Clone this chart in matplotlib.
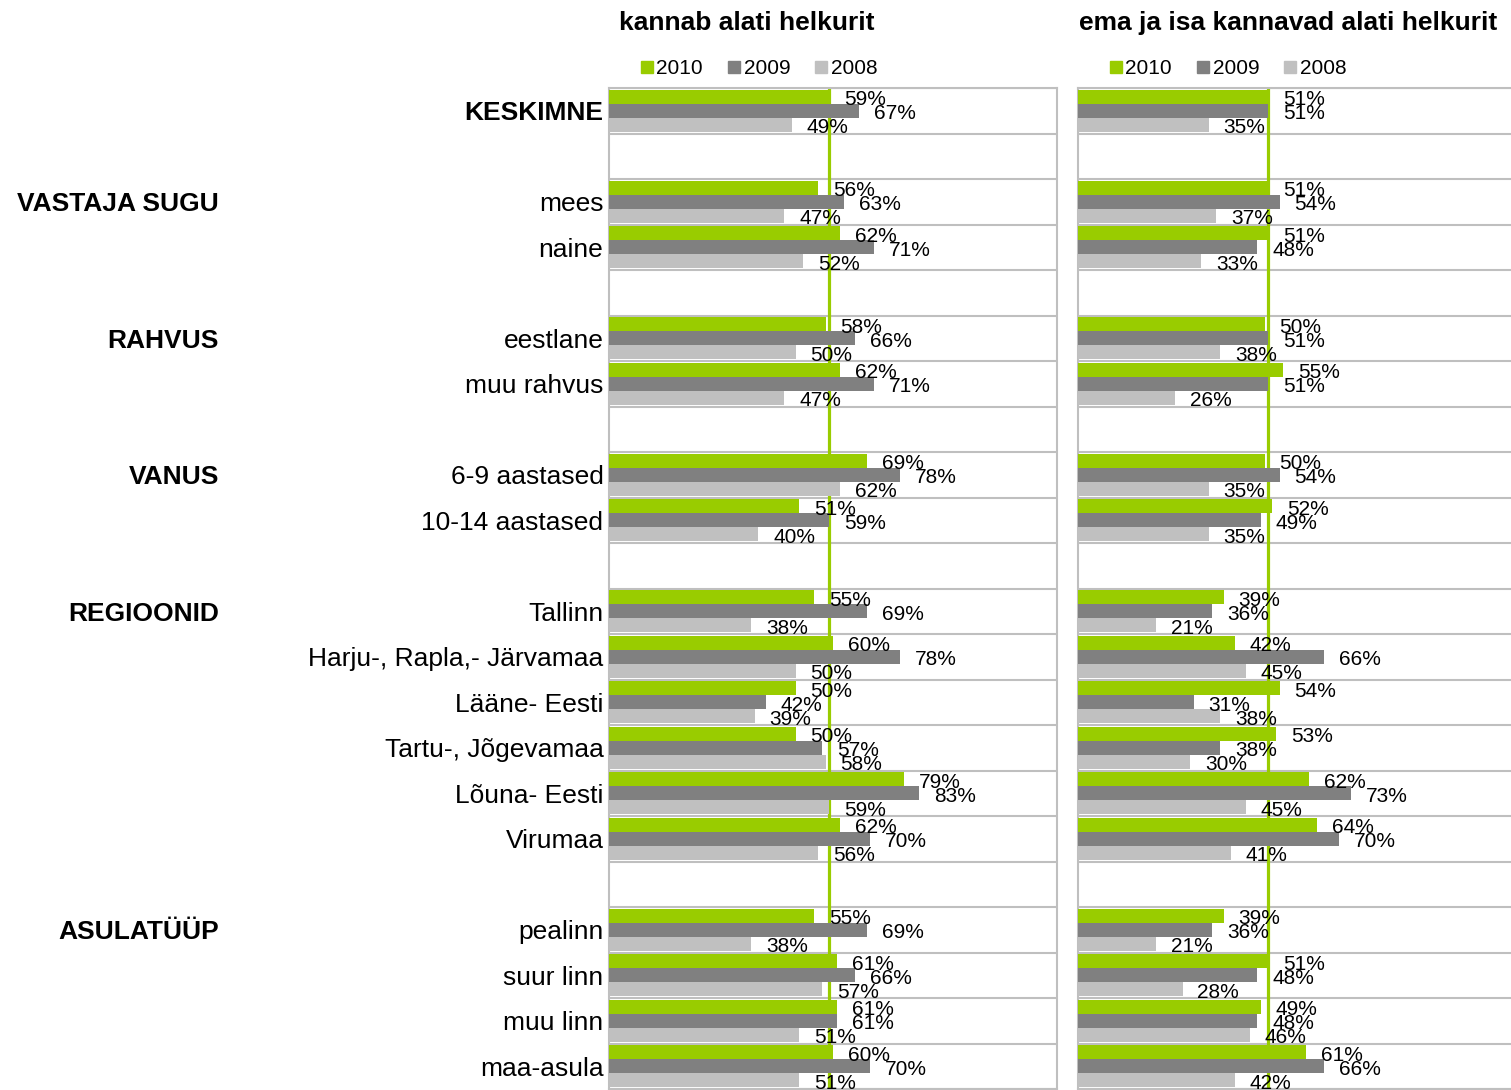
import numpy as np
import matplotlib.pyplot as plt
from matplotlib.lines import Line2D

plt.rcParams['font.family'] = ['Liberation Sans', 'DejaVu Sans']

# rows (None = empty spacer row)
rows = ['KESKIMNE', None, 'mees', 'naine', None, 'eestlane', 'muu rahvus', None,
        '6-9 aastased', '10-14 aastased', None, 'Tallinn', 'Harju-, Rapla,- Järvamaa',
        'Lääne- Eesti', 'Tartu-, Jõgevamaa', 'Lõuna- Eesti', 'Virumaa', None,
        'pealinn', 'suur linn', 'muu linn', 'maa-asula']
groups = {'VASTAJA SUGU': 'mees', 'RAHVUS': 'eestlane', 'VANUS': '6-9 aastased',
          'REGIOONID': 'Tallinn', 'ASULATÜÜP': 'pealinn'}
years = ['2010', '2009', '2008']

# kannab alati helkurit
left_2010 = [59, 56, 62, 58, 62, 69, 51, 55, 60, 50, 50, 79, 62, 55, 61, 61, 60]
left_2009 = [67, 63, 71, 66, 71, 78, 59, 69, 78, 42, 57, 83, 70, 69, 66, 61, 70]
left_2008 = [49, 47, 52, 50, 47, 62, 40, 38, 50, 39, 58, 59, 56, 38, 57, 51, 51]

# ema ja isa kannavad alati helkurit
right_2010 = [51, 51, 51, 50, 55, 50, 52, 39, 42, 54, 53, 62, 64, 39, 51, 49, 61]
right_2009 = [51, 54, 48, 51, 51, 54, 49, 36, 66, 31, 38, 73, 70, 36, 48, 48, 66]
right_2008 = [35, 37, 33, 38, 26, 35, 35, 21, 45, 38, 30, 45, 41, 21, 28, 46, 42]

colors = ['#99CC00', '#808080', '#C0C0C0']
W, H = 1511, 1090
fig = plt.figure(figsize=(W / 100, H / 100), dpi=100)

row_idx = [i for i, r in enumerate(rows) if r is not None]
nrows = len(rows)
bh = 0.31
offsets = [-bh, 0, bh]


def panel(x0, title, series, legend_x, title_x, show_labels):
    ax = fig.add_axes([x0 / W, 1 - 1089 / H, 448 / W, 1001 / H])
    for k, vals in enumerate(series):
        ys = [r + offsets[k] for r in row_idx]
        ax.barh(ys, vals, height=bh, color=colors[k], zorder=3)
        for y, v in zip(ys, vals):
            ax.text(v + 4, y + 0.02, f'{v}%', va='center_baseline', ha='left',
                    fontsize=15, zorder=5)
    ax.axvline(series[0][0], color='#99CC00', lw=2.3, zorder=2)
    for b in range(nrows + 1):
        ax.axhline(b - 0.5, color='#BFBFBF', lw=1.5, zorder=1)
    ax.set_xlim(0, 120)
    ax.set_ylim(nrows - 0.5, -0.5)
    ax.set_xticks([])
    ax.tick_params(axis='y', length=0, pad=4)
    if show_labels:
        ax.set_yticks(row_idx)
        labs = ax.set_yticklabels([rows[i] for i in row_idx], fontsize=19)
        for lab in labs:
            lab.set_va('center_baseline')
        labs[0].set_fontweight('bold')
    else:
        ax.set_yticks([])
    for s in ax.spines.values():
        s.set_color('#BFBFBF')
        s.set_linewidth(1.5)
    fig.text(title_x / W, 1 - 23 / H, title, ha='center', va='center',
             fontsize=19, fontweight='bold')
    handles = [Line2D([], [], marker='s', ls='', color=c, markersize=8) for c in colors]
    fig.legend(handles, years, loc='center', bbox_to_anchor=(legend_x / W, 1 - 69 / H),
               ncol=3, frameon=False, fontsize=15, handlelength=0.6, handletextpad=0.15,
               columnspacing=1.2, borderpad=0)
    return ax


panel(609, 'kannab alati helkurit', [left_2010, left_2009, left_2008], 759, 747, True)
panel(1078, 'ema ja isa kannavad alati helkurit', [right_2010, right_2009, right_2008],
      1228, 1288, False)

for g, first in groups.items():
    r = rows.index(first)
    y = 1 - (88 + (r + 0.5) * 1001 / nrows) / H
    fig.text(219 / W, y, g, ha='right', va='center_baseline', fontsize=19,
             fontweight='bold')

fig.savefig('out.png', dpi=100)
